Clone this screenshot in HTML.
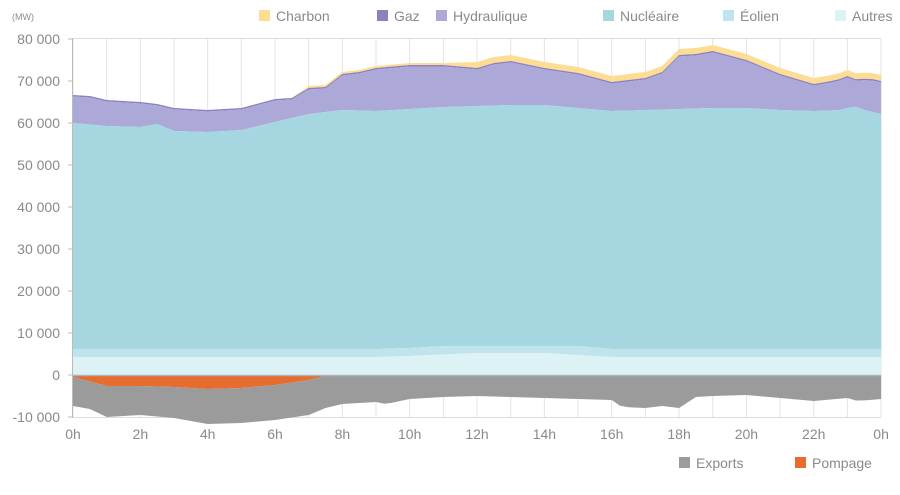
<!DOCTYPE html><html><head><meta charset="utf-8"><style>
body{margin:0;background:#fff;font-family:"Liberation Sans",sans-serif;}
svg text{font-family:"Liberation Sans",sans-serif;fill:#8a8a8a;}
</style></head><body>
<svg id="c" width="900" height="490" xmlns="http://www.w3.org/2000/svg"></svg>
<script>
const X=h=>73+h*33.67;
function interp(pts,h){for(let i=0;i<pts.length-1;i++){if(h>=pts[i][0]&&h<=pts[i+1][0]){const t=(h-pts[i][0])/(pts[i+1][0]-pts[i][0]||1);return pts[i][1]+t*(pts[i+1][1]-pts[i][1]);}}return pts[pts.length-1][1];}
const total=[[0,95],[0.5,96],[1,100],[2,102],[2.5,104],[3,108],[4,110],[5,108],[6,99],[6.5,98],[7,86],[7.5,85],[8,72],[8.5,70],[9,66],[10,63],[11,63],[12,62],[12.5,57],[13,55],[14,62],[15,67],[16,76],[16.5,74],[17,72],[17.5,66],[18,49],[18.5,48],[19,45],[20,54],[21,68],[22,78],[22.7,74],[23,70],[23.3,74],[23.6,72],[24,75]];
const gazTop=total.map(p=>[p[0],p[1]+(p[0]<7?0:(p[0]<12?2:6))]);
const hydTop=gazTop.map(p=>[p[0],p[1]+1.5]);
const nuc=[[0,123],[1,126],[2,127],[2.5,124],[3,131],[4,132],[5,130],[6,122],[7,114],[8,110],[9,111],[10,109],[11,107],[12,106],[13,105],[14,105],[15,108],[16,111],[17,110],[18,109],[19,108],[20,108],[21,110],[22,111],[22.8,110],[23.2,106],[23.5,110],[24,114]];
const eol=[[0,349],[9,349],[10,348],[11,346],[15,346],[16,349],[24,349]];
const aut=[[0,357],[9,357],[10,356],[12,353],[14,353],[15,355],[16,357],[24,357]];
const zero=[[0,375],[24,375]];
const pomp=[[0,377],[1,386],[2,386],[3,387],[4,389],[5,388],[6,385],[7,380],[7.5,376],[24,376]];
const exp=[[0,406],[0.5,409],[1,417],[2,415],[3,418],[4,424],[5,423],[6,420],[7,415],[7.5,408],[8,404],[9,402],[9.3,404],[10,399],[11,397],[12,396],[13,397],[14,398],[15,399],[16,400],[16.3,407],[17,408],[17.5,406],[18,408],[18.5,397],[19,396],[20,395],[21,398],[22,401],[23,398],[23.3,401],[24,399]];
const S=[];for(let h=0;h<=24.0001;h+=0.25)S.push(h);
function area(top,bot,col){let d='M';S.forEach((h,i)=>d+=(i?'L':'')+X(h).toFixed(1)+','+interp(top,h).toFixed(1));S.slice().reverse().forEach(h=>d+='L'+X(h).toFixed(1)+','+interp(bot,h).toFixed(1));return `<path d="${d}Z" fill="${col}"/>`;}
let s='';
// grid
for(let h=0;h<=24;h++)s+=`<line x1="${X(h)}" y1="39" x2="${X(h)}" y2="417" stroke="#e3e3e3"/>`;
s+=`<line x1="73" y1="38.5" x2="881" y2="38.5" stroke="#ddd"/><line x1="73" y1="417.5" x2="881" y2="417.5" stroke="#ddd"/>`;
s+=area(total,gazTop,'#fddc93');
s+=area(gazTop,hydTop,'#8b80c0');
s+=area(hydTop,nuc,'#aca8d7');
s+=area(nuc,eol,'#a6d7e1');
s+=area(eol,aut,'#bfe4eb');
s+=area(aut,zero,'#ddf2f5');
s+=area(zero,pomp,'#e66d2e');
s+=area(pomp,exp,'#9b9b9b');
s+=`<line x1="73" y1="375.5" x2="881" y2="375.5" stroke="#a9b4b8" stroke-width="1.5"/>`;
s+=`<line x1="72.5" y1="38" x2="72.5" y2="418" stroke="#bbb"/>`;
const yl=['80 000','70 000','60 000','50 000','40 000','30 000','20 000','10 000','0','-10 000'];
yl.forEach((t,i)=>{const y=39+i*42;s+=`<line x1="68" y1="${y}" x2="73" y2="${y}" stroke="#bbb"/><text x="60" y="${y+5}" font-size="14" text-anchor="end">${t}</text>`;});
s+=`<text x="12" y="20" font-size="9">(MW)</text>`;
for(let h=0;h<=24;h+=2)s+=`<text x="${X(h)}" y="439" font-size="14" text-anchor="middle">${h==24?0:h}h</text>`;
const L=[[259,'#fddc93','Charbon'],[377,'#8b80c0','Gaz'],[436,'#aca8d7','Hydraulique'],[603,'#a6d7e1','Nucléaire'],[723,'#bfe4eb','Éolien'],[835,'#ddf2f5','Autres']];
L.forEach(l=>s+=`<rect x="${l[0]}" y="10" width="11" height="11" fill="${l[1]}"/><text x="${l[0]+17}" y="21" font-size="14">${l[2]}</text>`);
s+=`<rect x="679" y="457" width="11" height="11" fill="#9b9b9b"/><text x="696" y="468" font-size="14">Exports</text>`;
s+=`<rect x="795" y="457" width="11" height="11" fill="#e66d2e"/><text x="812" y="468" font-size="14">Pompage</text>`;
document.getElementById('c').innerHTML=s;
</script>
</body></html>
